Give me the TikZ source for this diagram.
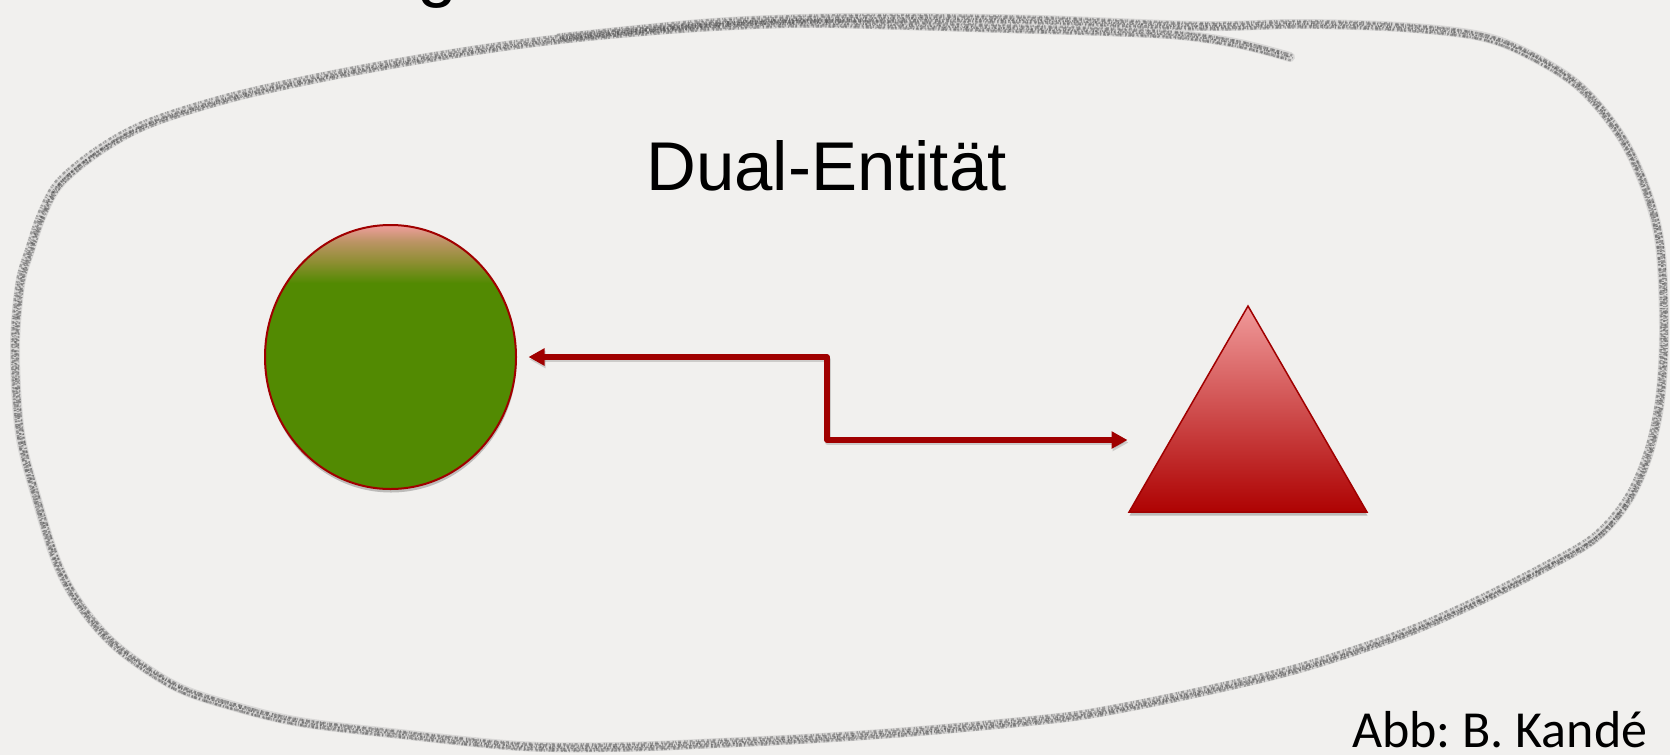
\documentclass[tikz,border=0pt]{standalone}
\usepackage{fontspec}
\setmainfont{Liberation Sans}
\newfontfamily\calibfont{Carlito}
\usetikzlibrary{shapes.geometric,arrows.meta,shadows,calc}
\definecolor{bg}{HTML}{F1F0EE}
\definecolor{cgreen}{HTML}{528A02}
\definecolor{colive}{RGB}{142,142,50}
\definecolor{ctan}{RGB}{189,148,102}
\definecolor{cpink}{HTML}{F09E9E}
\definecolor{tpink}{HTML}{F09A9A}
\definecolor{tred}{HTML}{AE0202}
\definecolor{darkred}{HTML}{A00000}
\definecolor{pencil}{HTML}{787878}
\pgfdeclareverticalshading{circgrad}{100bp}{color(0bp)=(cgreen); color(64bp)=(cgreen); color(68bp)=(colive); color(72bp)=(ctan); color(75bp)=(cpink); color(100bp)=(cpink)}
\tikzset{
  pencilA/.style={draw=pencil!80, line width=10pt, opacity=.25, line cap=round, line join=round},
  pencilB/.style={draw=pencil!75!black, line width=2.6pt, opacity=.5, line cap=butt,
    dash pattern=on 2.5pt off 1.5pt on 1pt off 3pt on 4pt off 2pt,
    transform canvas={xshift=2.2pt,yshift=1.6pt}},
  pencilC/.style={draw=pencil!75!black, line width=2.6pt, opacity=.5, line cap=butt,
    dash pattern=on 1.5pt off 2.5pt on 3pt off 1pt on 1pt off 2pt,
    transform canvas={xshift=-2pt,yshift=-2.2pt}},
  pencilD/.style={draw=pencil!75!black, line width=2.4pt, opacity=.45, line cap=butt,
    dash pattern=on 1pt off 2pt on 3pt off 1pt on 2pt off 3.5pt,
    transform canvas={xshift=0.8pt,yshift=-3.4pt}},
  pencilE/.style={draw=pencil!75!black, line width=2.4pt, opacity=.45, line cap=butt,
    dash pattern=on 3pt off 2pt on 1pt off 1pt on 1.5pt off 3pt,
    transform canvas={xshift=-3pt,yshift=3pt}},
  pencilF/.style={draw=pencil!55!black, line width=1.8pt, opacity=.5, line cap=butt,
    dash pattern=on 1pt off 1.3pt on 2pt off 2.7pt on 0.7pt off 1.5pt},
  pencilG/.style={draw=pencil!60!black, line width=1.4pt, opacity=.45, line cap=butt,
    dash pattern=on 0.8pt off 2.2pt on 1.6pt off 1.2pt on 2.4pt off 2.6pt,
    transform canvas={xshift=3.4pt,yshift=-1pt}},
  shapeshadow/.style={drop shadow={opacity=.22, shadow xshift=0.5pt, shadow yshift=-3.5pt, fill=black}},
  conn/.style={draw=darkred, line width=5.5pt, line join=round,
    {Triangle[length=16pt,width=16.5pt]}-{Triangle[length=16pt,width=16.5pt]}},
  connshadow/.style={draw=black, line width=5.5pt, opacity=.15, line join=round,
    {Triangle[length=16pt,width=16.5pt]}-{Triangle[length=16pt,width=16.5pt]},
    transform canvas={xshift=1pt, yshift=-2.5pt}},
  textlabel/.style={anchor=base west, inner sep=0pt, text=black},
}
\begin{document}
\begin{tikzpicture}[x=1pt,y=-1pt]
\useasboundingbox (0,0) rectangle (1670,755);
\fill[bg] (0,0) rectangle (1670,755);
\begin{scope}
\clip (0,0) rectangle (1670,755);
% pencil loop
\foreach \s in {pencilA,pencilB,pencilC,pencilD,pencilE,pencilF,pencilG}{
\draw[\s] plot[smooth, tension=0.55] coordinates {
 (560,38) (700,24) (800,19) (900,18) (1040,20) (1200,26) (1300,24) (1400,27)
 (1480,36) (1530,55) (1580,87) (1620,135) (1645,187) (1660,245) (1664,330)
 (1660,400) (1648,455) (1628,500) (1595,538) (1540,570) (1470,605) (1400,635)
 (1300,668) (1200,692) (1100,712) (1040,720) (920,731) (820,738) (720,743)
 (620,747) (520,746) (400,734) (300,722) (233,706) (175,686) (117,647)
 (80,605) (57,563) (37,500) (20,433) (15,350) (20,285) (30,250) (42,215)
 (60,183) (100,150) (150,123) (233,97) (333,75) (433,57) (520,44) (600,35)
 (700,27) (800,23) (900,25) (1000,28) (1100,31) (1180,35) (1240,44) (1290,57)};
}
% partial title letter at the top edge
\node[textlabel, font=\fontsize{72pt}{80pt}\selectfont] (gtop) at (417,-7) {g};
\end{scope}
% title
\node[textlabel, font=\fontsize{69pt}{80pt}\selectfont] (title) at (646,190) {Dual-Entität};
% circle
\node[ellipse, minimum width=251pt, minimum height=264pt, inner sep=0pt, outer sep=0pt,
      draw=darkred, line width=2pt, shade, shading=circgrad, shapeshadow] (circ) at (390.5,357) {};
% triangle
\node[regular polygon, regular polygon sides=3, minimum size=274.8pt, inner sep=0pt, outer sep=0pt,
      draw=darkred, line width=1.5pt, top color=tpink, bottom color=tred, shapeshadow] (tri) at (1248,443.4) {};
% connector
\coordinate (bend) at (827,440);
\path (tri.corner 2 |- bend) coordinate (tend);
\draw[connshadow] ([xshift=12.5pt]circ.east) -| (bend) -- ([xshift=-1.5pt]tend);
\draw[conn] ([xshift=12.5pt]circ.east) -| (bend) -- ([xshift=-1.5pt]tend);
% credit
\node[textlabel, font=\calibfont\fontsize{52pt}{60pt}\selectfont\frenchspacing] (credit) at (1352,747) {Abb: B. Kandé};
\end{tikzpicture}
\end{document}
